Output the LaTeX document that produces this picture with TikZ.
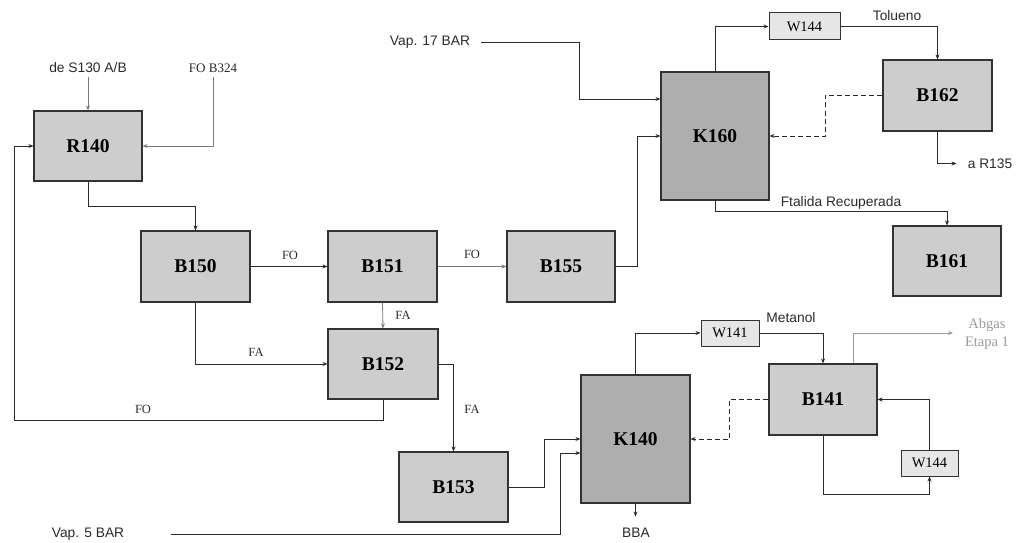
\documentclass[tikz,border=0pt]{standalone}
\usepackage{fontspec}
\setmainfont{Liberation Serif}
\setsansfont{Liberation Sans}
\usetikzlibrary{arrows.meta}
\definecolor{bfill}{HTML}{CDCDCD}
\definecolor{kfill}{HTML}{AEAEAE}
\definecolor{wfill}{HTML}{E6E6E6}
\definecolor{edge}{HTML}{333333}
\definecolor{ln}{HTML}{2A2A2A}
\definecolor{lgray}{HTML}{7A7A7A}
\definecolor{agray}{HTML}{9A9A9A}
\tikzset{
  bbox/.style={draw=edge, line width=1.1pt, fill=bfill, inner sep=0pt, font=\fontsize{19.5}{21}\selectfont\bfseries},
  kbox/.style={bbox, fill=kfill},
  wbox/.style={draw=edge, line width=1pt, fill=wfill, inner sep=0pt, font=\fontsize{14.5}{16}\selectfont},
  stxt/.style={font=\sffamily\fontsize{13.8}{16}\selectfont, text=ln, inner sep=1pt},
  rtxt/.style={font=\fontsize{12.5}{14}\selectfont, text=ln, inner sep=1pt},
  conn/.style={draw=ln, line width=0.8pt},
  lconn/.style={draw=lgray, line width=0.8pt},
  arr/.style={-{Stealth[length=5pt,width=4pt]}},
  dconn/.style={conn, dash pattern=on 5pt off 3pt}
}
\begin{document}
\begin{tikzpicture}[x=1pt,y=-1pt]
\useasboundingbox (0,0) rectangle (1018,543);
% boxes
\node[bbox, minimum width=108, minimum height=70] (R140) at (88,146) {R140};
\node[bbox, minimum width=109, minimum height=71] (B150) at (195.5,266.5) {B150};
\node[bbox, minimum width=109, minimum height=71] (B151) at (382.5,266.5) {B151};
\node[bbox, minimum width=108, minimum height=71] (B155) at (561,266.5) {B155};
\node[bbox, minimum width=110, minimum height=70] (B152) at (383,364) {B152};
\node[bbox, minimum width=109, minimum height=70] (B153) at (453.5,487) {B153};
\node[kbox, minimum width=109, minimum height=128] (K140) at (635.5,439) {K140};
\node[kbox, minimum width=108, minimum height=128] (K160) at (715,136) {K160};
\node[wbox, minimum width=71, minimum height=27] (W144a) at (804.5,26.5) {W144};
\node[bbox, minimum width=109, minimum height=71] (B162) at (937.5,95.5) {B162};
\node[bbox, minimum width=108, minimum height=70] (B161) at (947,261) {B161};
\node[wbox, minimum width=58, minimum height=26] (W141) at (730,333) {W141};
\node[bbox, minimum width=108, minimum height=71] (B141) at (823,399.5) {B141};
\node[wbox, minimum width=57, minimum height=26] (W144b) at (929.5,463) {W144};
% text nodes
\node[stxt] (deS) at (88,68) {de S130 A/B};
\node[rtxt, font=\fontsize{13}{14}\selectfont] (FOB) at (213,68) {FO B324};
\node[stxt] (vap17) at (430,42) {Vap. 17 BAR};
\node[stxt] (vap5) at (88,534) {Vap. 5 BAR};
\node[stxt] (bba) at (636,533) {BBA};
\node[stxt] (tol) at (897,16) {Tolueno};
\node[stxt] (met) at (791,318) {Metanol};
\node[stxt] (aR) at (990,164) {a R135};
\node[stxt] (ftal) at (841,203) {Ftalida Recuperada};
\node[align=center, text=agray, font=\fontsize{14.5}{18}\selectfont, inner sep=0pt] (abg) at (987,334) {Abgas\\Etapa 1};
\node[rtxt] (lFO1) at (290,255) {FO};
\node[rtxt] (lFO2) at (472,254) {FO};
\node[rtxt] (lFA1) at (403,315) {FA};
\node[rtxt] (lFA2) at (256,352) {FA};
\node[rtxt] (lFA3) at (472,409) {FA};
\node[rtxt] (lFO3) at (143,409) {FO};
\coordinate (loopL) at (14,420);
\coordinate (abgEnd) at (953,333);
% connectors
\draw[lconn, arr] ([yshift=-3pt]deS.south) -- (R140.north);
\draw[lconn, arr] ([yshift=-3pt]FOB.south) |- (R140.east);
\draw[conn, arr] (R140.south) -- ++(0,25) -| (B150.north);
\draw[conn, arr] (B152.south) |- (loopL) |- (R140.west);
\draw[conn, arr] (B150.east) -- (B151.west);
\draw[lconn, arr] (B151.east) -- (B155.west);
\draw[lconn, arr] (B151.south) -- (B152.north);
\draw[conn, arr] (B150.south) |- (B152.west);
\draw[conn, arr] (B152.east) -| (B153.north);
\draw[conn, arr] (B153.east) -- ++(36,0) |- (K140.west);
\draw[conn, arr] ([xshift=46pt]vap5.east) -| ([xshift=-20pt,yshift=-14pt]K140.west) -- ([yshift=-14pt]K140.west);
\draw[conn, arr] (K140.south) -- ++(0,13);
\draw[conn, arr] (K140.north) |- (W141.west);
\draw[conn, arr] (W141.east) -| (B141.north);
\draw[draw=agray, line width=0.8pt, arr] ([xshift=30pt]B141.north) |- (abgEnd);
\draw[dconn, arr] (B141.west) -- ++(-39,0) |- (K140.east);
\draw[conn, arr] (B141.south) -- ++(0,59) -| (W144b.south);
\draw[conn, arr] (W144b.north) |- (B141.east);
\draw[conn, arr] ([xshift=10pt]vap17.east) -| ([xshift=-81pt,yshift=37pt]K160.west) -- ([yshift=37pt]K160.west);
\draw[conn, arr] (B155.east) -- ++(22,0) |- (K160.west);
\draw[conn, arr] (K160.north) |- (W144a.west);
\draw[conn, arr] (W144a.east) -| (B162.north);
\draw[dconn, arr] (B162.west) -- ++(-57,0) |- (K160.east);
\draw[conn, arr] (B162.south) -- ++(0,32) -- ++(19,0);
\draw[conn, arr] (K160.south) -- ++(0,11) -| (B161.north);
\end{tikzpicture}
\end{document}
